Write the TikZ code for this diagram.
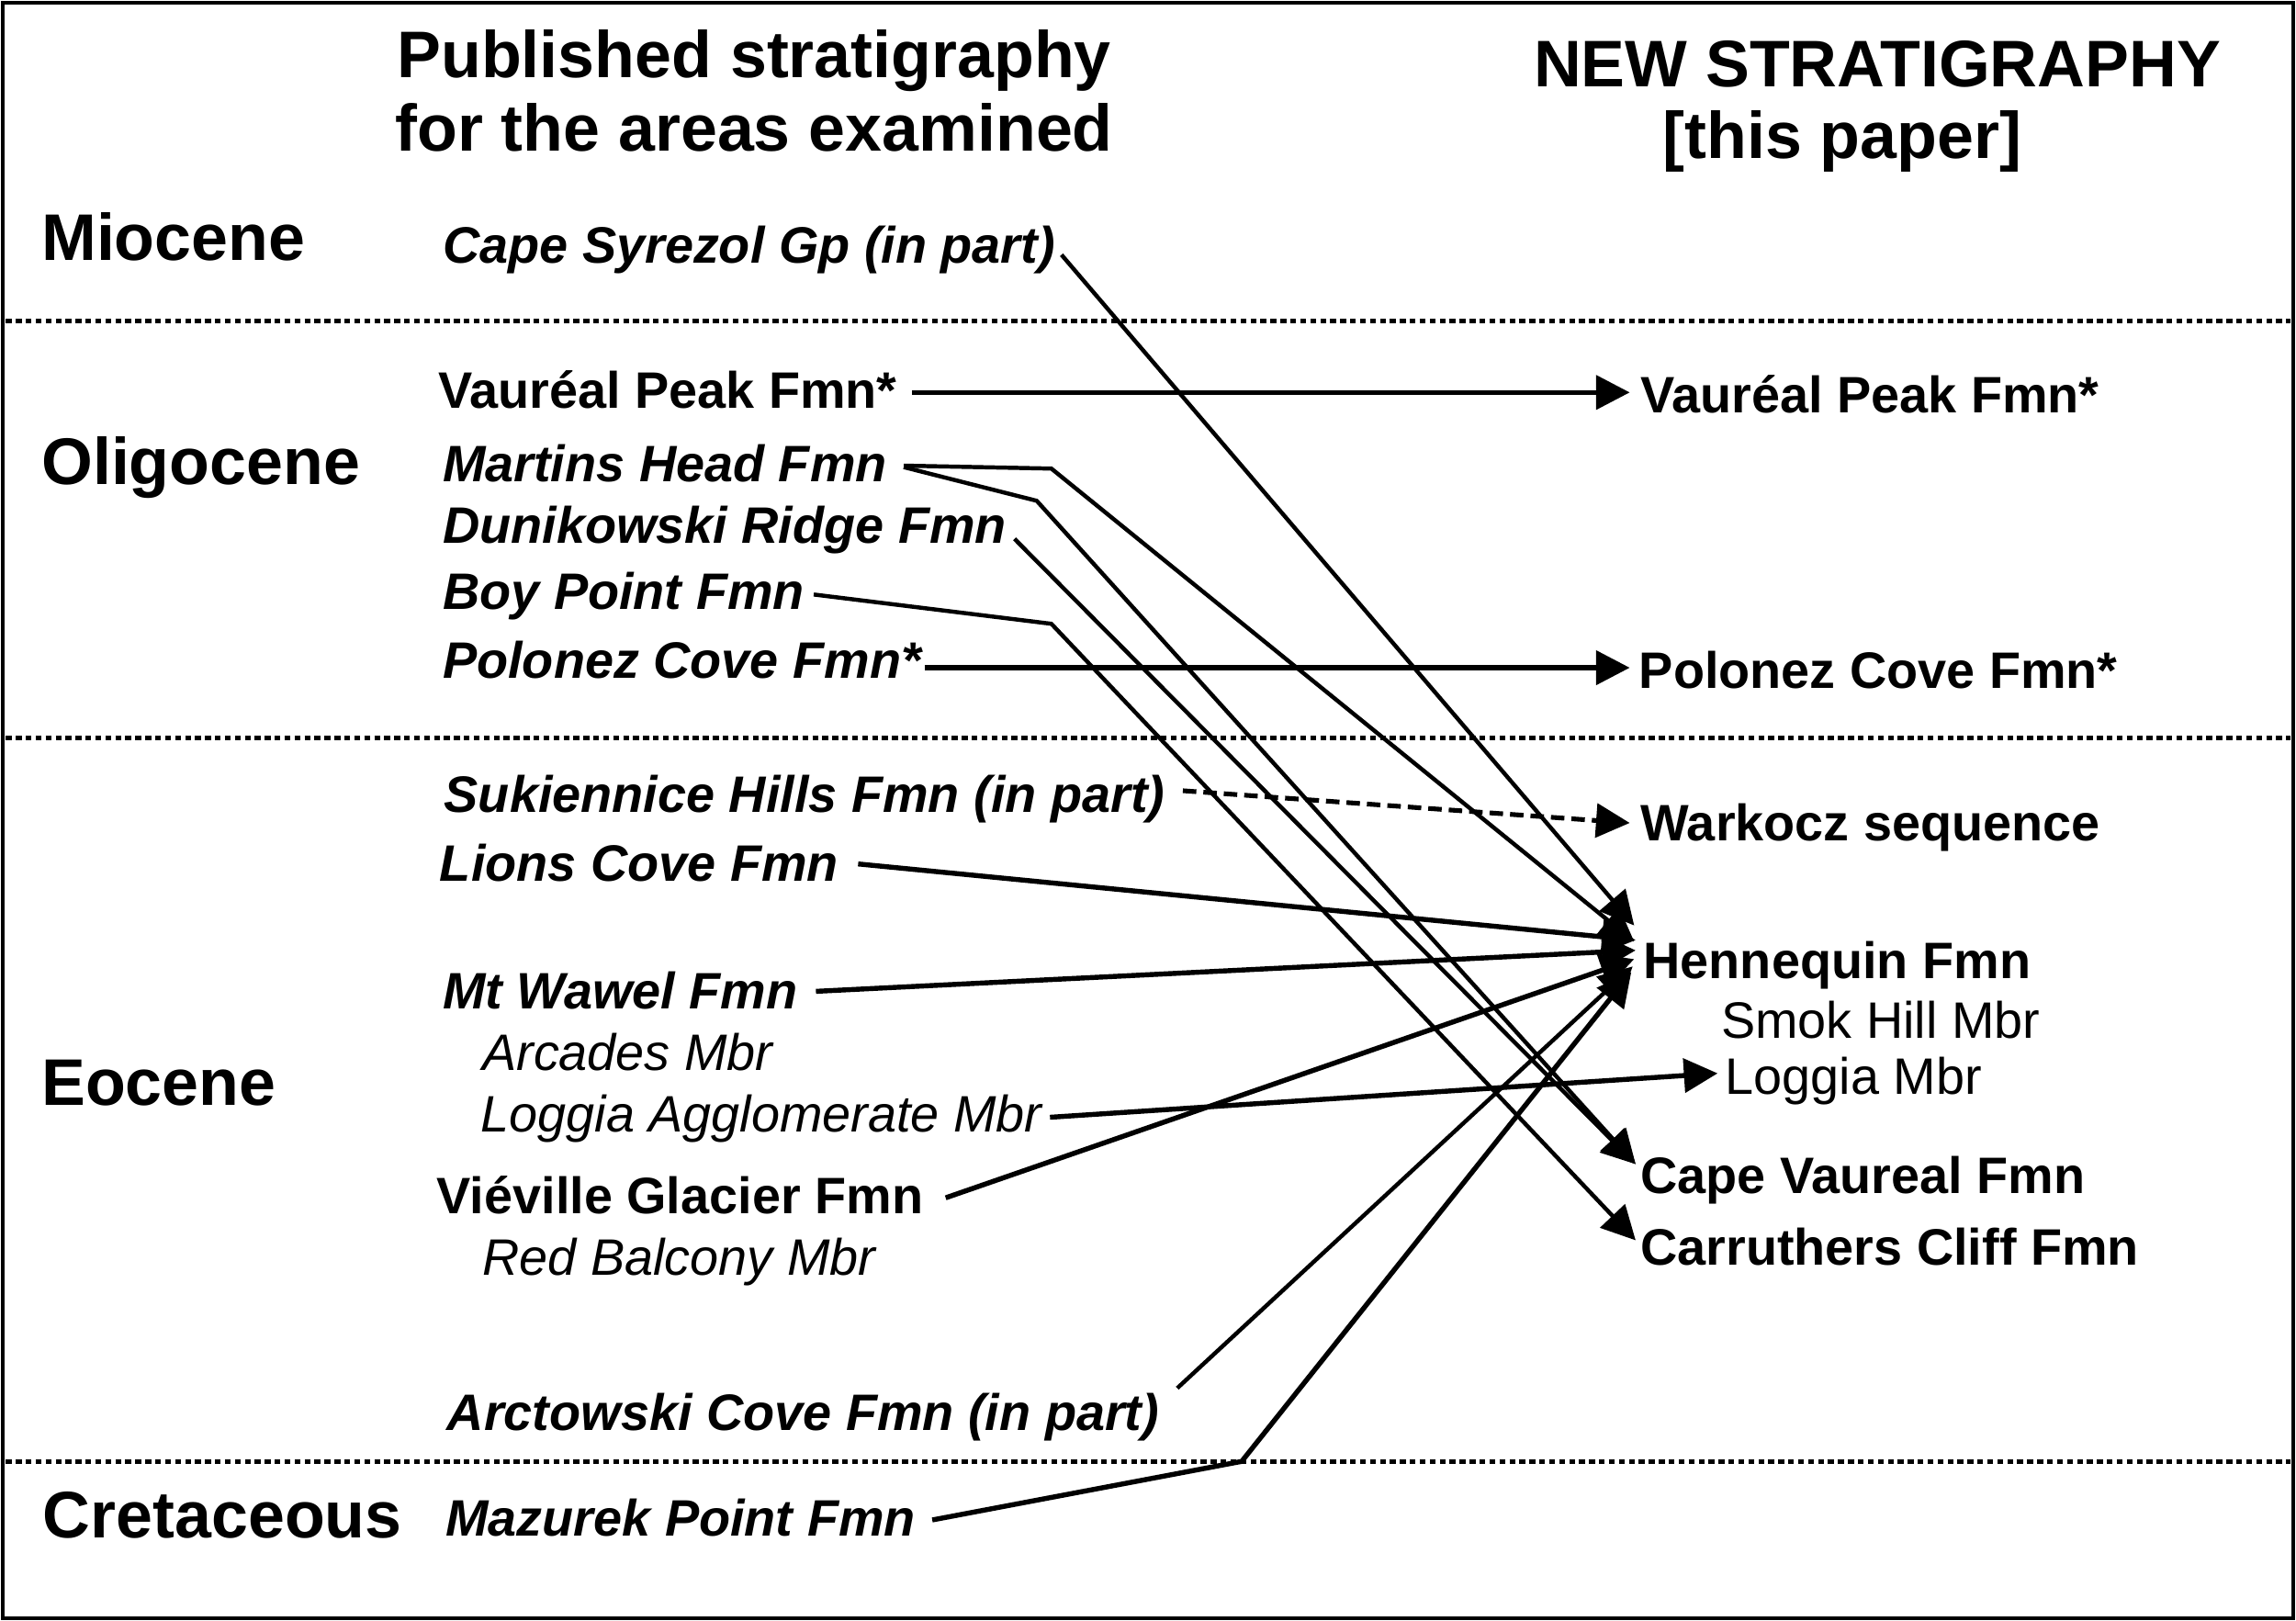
\documentclass[tikz,border=0pt]{standalone}
\usepackage{fontspec}
\setmainfont{Liberation Sans}
\usetikzlibrary{arrows.meta}
\begin{document}
\begin{tikzpicture}[x=0.5pt,y=-0.5pt,
  era/.style={anchor=base west,inner sep=0pt,font=\fontsize{22.5}{27}\selectfont\bfseries},
  ttl/.style={anchor=base,inner sep=0pt,font=\fontsize{22.5}{27}\selectfont\bfseries},
  fmi/.style={anchor=base west,inner sep=0pt,font=\fontsize{17.5}{21}\selectfont\bfseries\itshape},
  fmu/.style={anchor=base west,inner sep=0pt,font=\fontsize{17.5}{21}\selectfont\bfseries},
  mbi/.style={anchor=base west,inner sep=0pt,font=\fontsize{17.5}{21}\selectfont\itshape},
  mbu/.style={anchor=base west,inner sep=0pt,font=\fontsize{17.5}{21}\selectfont},
  con/.style={line width=1.4pt,line join=miter},
  hcon/.style={line width=1.7pt,line join=miter},
  arr/.style={-{Triangle[length=11.5pt,width=11.5pt]}},
  dashcon/.style={line width=1.6pt,dash pattern=on 4.6pt off 2.4pt},
  sep/.style={line width=1.6pt,dash pattern=on 2pt off 1.4pt}
]
\useasboundingbox (0,0) rectangle (1568,1107);
\draw[line width=1.1pt] (2,2) rectangle (1566,1105);
% period separators
\draw[sep] (4,219) -- (1564,219);
\draw[sep] (4,504) -- (1564,504);
\draw[sep] (4,998) -- (1564,998);
% headings
\node[ttl] (pub1) at (515,53) {Published stratigraphy};
\node[ttl] (pub2) at (515,103) {for the areas examined};
\node[ttl] (new1) at (1282,59) {NEW STRATIGRAPHY};
\node[ttl] (new2) at (1258,108) {[this paper]};
\node[era] (mio) at (28,178) {Miocene};
\node[era] (oli) at (28,331) {Oligocene};
\node[era] (eoc) at (28,755) {Eocene};
\node[era] (cre) at (29,1050) {Cretaceous};
% published (left)
\node[fmi] (csL) at (302,180) {Cape Syrezol Gp (in part)};
\node[fmu] (vpL) at (299,279) {Vauréal Peak Fmn*};
\node[fmi] (mhL) at (302,329) {Martins Head Fmn};
\node[fmi] (dkL) at (302,371) {Dunikowski Ridge Fmn};
\node[fmi] (bpL) at (302,416) {Boy Point Fmn};
\node[fmi] (pcL) at (302,463) {Polonez Cove Fmn*};
\node[fmi] (skL) at (303,555) {Sukiennice Hills Fmn (in part)};
\node[fmi] (lcL) at (300,602) {Lions Cove Fmn};
\node[fmi] (mwL) at (302,689) {Mt Wawel Fmn};
\node[mbi] (arL) at (329,731) {Arcades Mbr};
\node[mbi] (laL) at (328,773) {Loggia Agglomerate Mbr};
\node[fmu] (vgL) at (298,829) {Viéville Glacier Fmn};
\node[mbi] (rbL) at (329,871) {Red Balcony Mbr};
\node[fmi] (acL) at (305,977) {Arctowski Cove Fmn (in part)};
\node[fmi] (mzL) at (304,1049) {Mazurek Point Fmn};
% new (right)
\node[fmu] (vpR) at (1120,282) {Vauréal Peak Fmn*};
\node[fmu] (pcR) at (1119,470) {Polonez Cove Fmn*};
\node[fmu] (wkR) at (1120,574) {Warkocz sequence};
\node[fmu] (hnR) at (1122,668) {Hennequin Fmn};
\node[mbu] (shR) at (1175,709) {Smok Hill Mbr};
\node[mbu] (lmR) at (1178,747) {Loggia Mbr};
\node[fmu] (cvR) at (1120,815) {Cape Vaureal Fmn};
\node[fmu] (ccR) at (1120,864) {Carruthers Cliff Fmn};
% bend points
\coordinate (mhA) at (718,320);
\coordinate (mhB) at (708,342);
\coordinate (bpB) at (718,426);
\coordinate (mzB) at (848,998);
% arrow tips
\coordinate (tVP) at ([shift={(-7,-14)}]vpR.base west);
\coordinate (tPC) at ([shift={(-6,-14)}]pcR.base west);
\coordinate (tWK) at ([shift={(-7,-12)}]wkR.base west);
\coordinate (tH1) at ([shift={(-6,-36)}]hnR.base west);
\coordinate (tH2) at ([shift={(-6,-25)}]hnR.base west);
\coordinate (tH3) at ([shift={(-5,-26)}]hnR.base west);
\coordinate (tH4) at ([shift={(-5,-19)}]hnR.base west);
\coordinate (tH5) at ([shift={(-6,-13)}]hnR.base west);
\coordinate (tH6) at ([shift={(-7,-8)}]hnR.base west);
\coordinate (tH7) at ([shift={(-8,-4)}]hnR.base west);
\coordinate (tLM) at ([shift={(-5,-14)}]lmR.base west);
\coordinate (tCV) at ([shift={(-3,-20)}]cvR.base west);
\coordinate (tCC) at ([shift={(-3,-17)}]ccR.base west);
% connectors
\draw[con,arr] ([shift={(4,-6)}]csL.base east) -- (tH1);
\draw[hcon,arr] ([shift={(10,-11)}]vpL.base east) -- (tVP);
\draw[con,arr] ([shift={(11,-11)}]mhL.base east) -- (mhA) -- (tH2);
\draw[con,arr] ([shift={(11,-10)}]mhL.base east) -- (mhB) -- (tCV);
\draw[con,arr] ([shift={(5,-3)}]dkL.base east) -- (tCV);
\draw[con,arr] ([shift={(6,-10)}]bpL.base east) -- (bpB) -- (tCC);
\draw[hcon,arr] ([shift={(2,-7)}]pcL.base east) -- (tPC);
\draw[dashcon,arr] ([shift={(12,-15)}]skL.base east) -- (tWK);
\draw[hcon,arr] ([shift={(13,-12)}]lcL.base east) -- (tH3);
\draw[hcon,arr] ([shift={(12,-12)}]mwL.base east) -- (tH4);
\draw[hcon,arr] ([shift={(5,-10)}]laL.base east) -- (tLM);
\draw[hcon,arr] ([shift={(15,-11)}]vgL.base east) -- (tH5);
\draw[con,arr] ([shift={(12,-29)}]acL.base east) -- (tH6);
\draw[hcon,arr] ([shift={(11,-11)}]mzL.base east) -- (mzB) -- (tH7);
\end{tikzpicture}
\end{document}
